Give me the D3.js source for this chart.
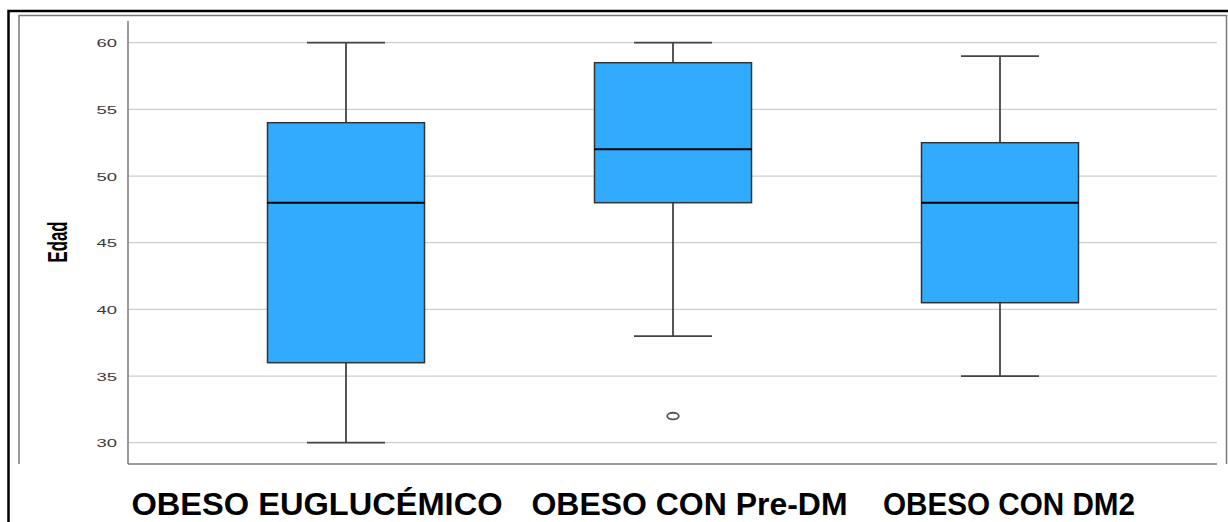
<!DOCTYPE html>
<html>
<head>
<meta charset="utf-8">
<script src="https://cdn.jsdelivr.net/npm/d3@7/dist/d3.min.js"></script>
<style>
  html, body { margin: 0; padding: 0; background: #fff; }
  svg { display: block; }
</style>
</head>
<body>
<svg id="chart" width="1228" height="522"></svg>
<script>
// ---- data ----
const categories = ["OBESO EUGLUCÉMICO", "OBESO CON Pre-DM", "OBESO CON DM2"];
const whiskerLow  = [30, 38, 35];
const q1          = [36, 48, 40.5];
const medians     = [48, 52, 48];
const q3          = [54, 58.5, 52.5];
const whiskerHigh = [60, 60, 59];
const outliers    = [[], [32], []];
const yTicks      = [30, 35, 40, 45, 50, 55, 60];
const yTitle      = "Edad";
const groupLabelX   = [131.5, 531.5, 883];
const groupLabelLen = [371, 316, 252];

const svg = d3.select("#chart");
const W = 1228, H = 522;

const plotLeft = 128, plotRight = 1217, plotTop = 21, plotBottom = 464;

const y = d3.scaleLinear().domain([30, 60]).range([442.7, 42.7]);
const x = d3.scalePoint().domain(categories).range([346, 1000]);
const boxW = 157, capW = 78;

// outer black border
svg.append("path")
  .attr("d", `M8.5,${H + 2} L8.5,11 L${W + 2},11`)
  .attr("fill", "none").attr("stroke", "#000").attr("stroke-width", 2.5);

// inner gray frame
svg.append("path")
  .attr("d", `M19,${plotBottom} L19,15.5 L1226.5,15.5 L1226.5,${plotBottom}`)
  .attr("fill", "none").attr("stroke", "#7a7a7a").attr("stroke-width", 1.5);

// gridlines
svg.append("g").selectAll("line").data(yTicks).join("line")
  .attr("x1", plotLeft).attr("x2", plotRight)
  .attr("y1", d => y(d)).attr("y2", d => y(d))
  .attr("stroke", "#cfcfcf").attr("stroke-width", 1.3);

// y axis
const yAxis = svg.append("g").attr("transform", `translate(${plotLeft},0)`)
  .call(d3.axisLeft(y).tickValues(yTicks).tickSize(0).tickPadding(0));
yAxis.select(".domain").remove();
yAxis.selectAll("text")
  .attr("x", 0)
  .attr("dy", "0.36em")
  .attr("transform", "translate(-11,0) scale(1.68,1)")
  .attr("text-anchor", "end")
  .attr("fill", "#3a3a3a")
  .style("font-family", "'Liberation Sans', Arial, sans-serif")
  .style("font-size", "11px");

// axis lines
svg.append("line").attr("x1", plotLeft).attr("x2", plotLeft)
  .attr("y1", plotTop).attr("y2", plotBottom)
  .attr("stroke", "#7a7a7a").attr("stroke-width", 1.5);
svg.append("line").attr("x1", plotLeft).attr("x2", plotRight)
  .attr("y1", plotBottom).attr("y2", plotBottom)
  .attr("stroke", "#7a7a7a").attr("stroke-width", 1.5);

// y title
svg.append("text")
  .attr("transform", "translate(67,242) rotate(-90) scale(0.6,1)")
  .attr("text-anchor", "middle")
  .attr("fill", "#000")
  .style("font-family", "'Liberation Sans', Arial, sans-serif")
  .style("font-weight", "bold")
  .style("font-size", "28px")
  .text(yTitle);

// boxes
const data = categories.map((c, i) => ({
  c, lo: whiskerLow[i], q1: q1[i], med: medians[i], q3: q3[i], hi: whiskerHigh[i], out: outliers[i]
}));

const g = svg.append("g").selectAll("g").data(data).join("g");

// whiskers
g.append("line").attr("x1", d => x(d.c)).attr("x2", d => x(d.c))
  .attr("y1", d => y(d.hi)).attr("y2", d => y(d.q3))
  .attr("stroke", "#444").attr("stroke-width", 1.8);
g.append("line").attr("x1", d => x(d.c)).attr("x2", d => x(d.c))
  .attr("y1", d => y(d.q1)).attr("y2", d => y(d.lo))
  .attr("stroke", "#444").attr("stroke-width", 1.8);
g.append("line").attr("x1", d => x(d.c) - capW / 2).attr("x2", d => x(d.c) + capW / 2)
  .attr("y1", d => y(d.hi)).attr("y2", d => y(d.hi))
  .attr("stroke", "#444").attr("stroke-width", 1.8);
g.append("line").attr("x1", d => x(d.c) - capW / 2).attr("x2", d => x(d.c) + capW / 2)
  .attr("y1", d => y(d.lo)).attr("y2", d => y(d.lo))
  .attr("stroke", "#444").attr("stroke-width", 1.8);

// box
g.append("rect")
  .attr("x", d => x(d.c) - boxW / 2).attr("width", boxW)
  .attr("y", d => y(d.q3)).attr("height", d => y(d.q1) - y(d.q3))
  .attr("fill", "#31abfe").attr("stroke", "#333").attr("stroke-width", 1.5);

// median
g.append("line").attr("x1", d => x(d.c) - boxW / 2).attr("x2", d => x(d.c) + boxW / 2)
  .attr("y1", d => y(d.med)).attr("y2", d => y(d.med))
  .attr("stroke", "#000").attr("stroke-width", 2);

// outliers
g.selectAll("ellipse").data(d => d.out.map(v => ({ c: d.c, v }))).join("ellipse")
  .attr("cx", d => x(d.c)).attr("cy", d => y(d.v))
  .attr("rx", 5.8).attr("ry", 3.3)
  .attr("fill", "none").attr("stroke", "#555").attr("stroke-width", 1.8);

// group labels
svg.append("g").selectAll("text").data(categories).join("text")
  .attr("x", (d, i) => groupLabelX[i]).attr("y", 515)
  .attr("textLength", (d, i) => groupLabelLen[i])
  .attr("lengthAdjust", "spacingAndGlyphs")
  .attr("fill", "#000")
  .style("font-family", "'Liberation Sans', Arial, sans-serif")
  .style("font-weight", "bold")
  .style("font-size", "32px")
  .text(d => d);
</script>
</body>
</html>
